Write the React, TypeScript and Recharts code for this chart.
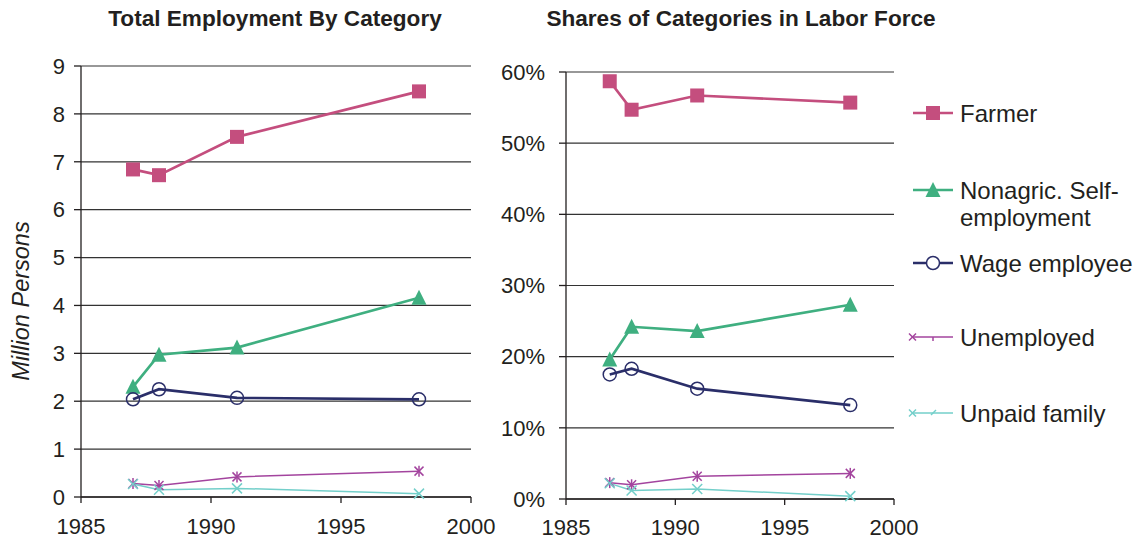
import React from 'react';
import { LineChart, Line, XAxis, YAxis, CartesianGrid } from 'recharts';

const years = [1987, 1988, 1991, 1998];
const seriesNames = ['Farmer', 'Nonagric. Self-employment', 'Wage employee', 'Unemployed', 'Unpaid family'];

const farmerMillions = [6.84, 6.72, 7.52, 8.47];
const nonagricMillions = [2.3, 2.97, 3.12, 4.16];
const wageMillions = [2.04, 2.25, 2.07, 2.04];
const unemployedMillions = [0.28, 0.24, 0.42, 0.54];
const unpaidMillions = [0.27, 0.15, 0.18, 0.07];

const farmerShare = [58.7, 54.7, 56.7, 55.7];
const nonagricShare = [19.6, 24.2, 23.6, 27.3];
const wageShare = [17.5, 18.3, 15.5, 13.2];
const unemployedShare = [2.3, 2.0, 3.2, 3.6];
const unpaidShare = [2.2, 1.2, 1.4, 0.4];

const xTicks = [1985, 1990, 1995, 2000];
const leftTicks = [0, 1, 2, 3, 4, 5, 6, 7, 8, 9];
const rightTicks = [0, 10, 20, 30, 40, 50, 60];

const titles = ['Total Employment By Category', 'Shares of Categories in Labor Force'];
const yAxisTitle = 'Million Persons';

const COLORS = {
  farmer: '#C44E7E',
  nonagric: '#3FAF80',
  wage: '#2A2E69',
  unemployed: '#A3449E',
  unpaid: '#73CFCA',
};

const FONT = '"Liberation Sans", Arial, sans-serif';
const TEXT = '#231F20';
const GRID = '#333333';

const leftData = years.map((y, i) => ({
  year: y,
  farmer: farmerMillions[i],
  nonagric: nonagricMillions[i],
  wage: wageMillions[i],
  unemployed: unemployedMillions[i],
  unpaid: unpaidMillions[i],
}));

const rightData = years.map((y, i) => ({
  year: y,
  farmer: farmerShare[i],
  nonagric: nonagricShare[i],
  wage: wageShare[i],
  unemployed: unemployedShare[i],
  unpaid: unpaidShare[i],
}));

const SquareDot = (p: any) => (
  <rect key={`sq-${p.index}`} x={p.cx - 7} y={p.cy - 7} width={14} height={14} fill={COLORS.farmer} />
);
const TriangleDot = (p: any) => (
  <polygon
    key={`tr-${p.index}`}
    points={`${p.cx},${p.cy - 8} ${p.cx + 7.5},${p.cy + 7} ${p.cx - 7.5},${p.cy + 7}`}
    fill={COLORS.nonagric}
  />
);
const CircleDot = (p: any) => (
  <circle key={`ci-${p.index}`} cx={p.cx} cy={p.cy} r={6.5} fill="none" stroke={COLORS.wage} strokeWidth={1.5} />
);
const StarDot = (p: any) => (
  <g key={`st-${p.index}`} stroke={COLORS.unemployed} strokeWidth={1.5}>
    <line x1={p.cx - 4.5} y1={p.cy - 4.5} x2={p.cx + 4.5} y2={p.cy + 4.5} />
    <line x1={p.cx - 4.5} y1={p.cy + 4.5} x2={p.cx + 4.5} y2={p.cy - 4.5} />
    <line x1={p.cx} y1={p.cy - 5.5} x2={p.cx} y2={p.cy + 5.5} />
  </g>
);
const XDot = (p: any) => (
  <g key={`x-${p.index}`} stroke={COLORS.unpaid} strokeWidth={1.5}>
    <line x1={p.cx - 5} y1={p.cy - 5} x2={p.cx + 5} y2={p.cy + 5} />
    <line x1={p.cx - 5} y1={p.cy + 5} x2={p.cx + 5} y2={p.cy - 5} />
  </g>
);

function renderLines() {
  return [
    <Line key="farmer" type="linear" dataKey="farmer" stroke={COLORS.farmer} strokeWidth={2.7} dot={SquareDot} activeDot={false} isAnimationActive={false} />,
    <Line key="nonagric" type="linear" dataKey="nonagric" stroke={COLORS.nonagric} strokeWidth={2.7} dot={TriangleDot} activeDot={false} isAnimationActive={false} />,
    <Line key="wage" type="linear" dataKey="wage" stroke={COLORS.wage} strokeWidth={2.7} dot={CircleDot} activeDot={false} isAnimationActive={false} />,
    <Line key="unemployed" type="linear" dataKey="unemployed" stroke={COLORS.unemployed} strokeWidth={1.5} dot={StarDot} activeDot={false} isAnimationActive={false} />,
    <Line key="unpaid" type="linear" dataKey="unpaid" stroke={COLORS.unpaid} strokeWidth={1.5} dot={XDot} activeDot={false} isAnimationActive={false} />,
  ];
}

const tickStyle = { fill: TEXT, fontSize: 22, fontFamily: FONT };

function LegendIcon({ kind, y }: { kind: string; y: number }) {
  const x1 = 913;
  const x2 = 953;
  const cx = 933;
  if (kind === 'farmer')
    return (
      <g>
        <line x1={x1} y1={y} x2={x2} y2={y} stroke={COLORS.farmer} strokeWidth={2.5} />
        <rect x={cx - 7} y={y - 7} width={14} height={14} fill={COLORS.farmer} />
      </g>
    );
  if (kind === 'nonagric')
    return (
      <g>
        <line x1={x1} y1={y} x2={x2} y2={y} stroke={COLORS.nonagric} strokeWidth={2.5} />
        <polygon points={`${cx},${y - 8} ${cx + 7.5},${y + 7} ${cx - 7.5},${y + 7}`} fill={COLORS.nonagric} />
      </g>
    );
  if (kind === 'wage')
    return (
      <g>
        <line x1={x1} y1={y} x2={x2} y2={y} stroke={COLORS.wage} strokeWidth={2.5} />
        <circle cx={cx} cy={y} r={6.5} fill="#fff" stroke={COLORS.wage} strokeWidth={1.5} />
      </g>
    );
  if (kind === 'unemployed')
    return (
      <g stroke={COLORS.unemployed} strokeWidth={1.5}>
        <line x1={x1} y1={y} x2={x2} y2={y} />
        <line x1={909} y1={y - 3.5} x2={916} y2={y + 3.5} />
        <line x1={909} y1={y + 3.5} x2={916} y2={y - 3.5} />
        <line x1={cx} y1={y} x2={cx} y2={y + 4} />
      </g>
    );
  return (
    <g stroke={COLORS.unpaid} strokeWidth={1.5}>
      <line x1={x1} y1={y} x2={x2} y2={y} />
      <line x1={909} y1={y - 3.5} x2={916} y2={y + 3.5} />
      <line x1={909} y1={y + 3.5} x2={916} y2={y - 3.5} />
      <line x1={931} y1={y + 2} x2={936} y2={y - 3} />
    </g>
  );
}

const legendRows = [
  { kind: 'farmer', y: 113, lines: [seriesNames[0]] },
  { kind: 'nonagric', y: 190, lines: ['Nonagric. Self-', 'employment'] },
  { kind: 'wage', y: 263, lines: [seriesNames[2]] },
  { kind: 'unemployed', y: 337, lines: [seriesNames[3]] },
  { kind: 'unpaid', y: 413, lines: [seriesNames[4]] },
];

export default function App() {
  return (
    <div style={{ position: 'absolute', left: 0, top: 0, width: 1142, height: 542, background: '#fff', fontFamily: FONT }}>
      <div style={{ position: 'absolute', left: 0, top: 0 }}>
        <LineChart width={510} height={542} data={leftData} margin={{ top: 66, right: 39, left: 0, bottom: 0 }}>
          <CartesianGrid horizontal vertical={false} stroke={GRID} strokeWidth={1.2} />
          <XAxis
            dataKey="year"
            type="number"
            domain={[1985, 2000]}
            ticks={xTicks}
            height={45}
            tick={tickStyle}
            tickSize={6}
            tickMargin={15}
            axisLine={{ stroke: TEXT, strokeWidth: 1.3 }}
            tickLine={{ stroke: TEXT, strokeWidth: 1.3 }}
            interval={0}
          />
          <YAxis
            type="number"
            domain={[0, 9]}
            ticks={leftTicks}
            width={81}
            tick={tickStyle}
            tickSize={7}
            tickMargin={9}
            axisLine={{ stroke: TEXT, strokeWidth: 1.3 }}
            tickLine={{ stroke: TEXT, strokeWidth: 1.3 }}
            interval={0}
          />
          {renderLines()}
        </LineChart>
      </div>
      <div style={{ position: 'absolute', left: 480, top: 0 }}>
        <LineChart width={450} height={542} data={rightData} margin={{ top: 72, right: 36, left: 0, bottom: 0 }}>
          <CartesianGrid horizontal vertical={false} stroke={GRID} strokeWidth={1.2} />
          <XAxis
            dataKey="year"
            type="number"
            domain={[1985, 2000]}
            ticks={xTicks}
            height={43}
            tick={tickStyle}
            tickSize={6}
            tickMargin={14}
            axisLine={{ stroke: TEXT, strokeWidth: 1.3 }}
            tickLine={{ stroke: TEXT, strokeWidth: 1.3 }}
            interval={0}
          />
          <YAxis
            type="number"
            domain={[0, 60]}
            ticks={rightTicks}
            width={86}
            tick={tickStyle}
            tickSize={7}
            tickMargin={14}
            tickFormatter={(v: number) => `${v}%`}
            axisLine={{ stroke: TEXT, strokeWidth: 1.3 }}
            tickLine={{ stroke: TEXT, strokeWidth: 1.3 }}
            interval={0}
          />
          {renderLines()}
        </LineChart>
      </div>
      <svg width={1142} height={542} style={{ position: 'absolute', left: 0, top: 0, pointerEvents: 'none' }}>
        <text x={275} y={26} textAnchor="middle" fontSize={22.6} fontWeight="bold" fill={TEXT} fontFamily={FONT}>
          {titles[0]}
        </text>
        <text x={741} y={26} textAnchor="middle" fontSize={22.6} fontWeight="bold" fill={TEXT} fontFamily={FONT}>
          {titles[1]}
        </text>
        <text
          x={21}
          y={301}
          transform="rotate(-90 21 301)"
          textAnchor="middle"
          dominantBaseline="central"
          fontSize={23.5}
          fontStyle="italic"
          fill={TEXT}
          fontFamily={FONT}
        >
          {yAxisTitle}
        </text>
        {legendRows.map((r) => (
          <g key={r.kind}>
            <LegendIcon kind={r.kind} y={r.y} />
            {r.lines.map((t, i) => (
              <text
                key={i}
                x={960}
                y={r.y + i * 27}
                dominantBaseline="central"
                fontSize={24}
                fill={TEXT}
                fontFamily={FONT}
              >
                {t}
              </text>
            ))}
          </g>
        ))}
      </svg>
    </div>
  );
}
